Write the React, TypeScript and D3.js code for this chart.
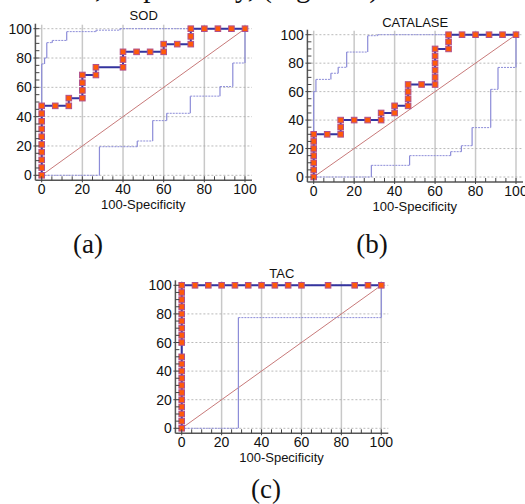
import React from "react";
import * as d3 from "d3";

// ---------- DATA ----------
const sodX = [0,0,0,0,0,0,0,0,0,0,6.67,13.33,13.33,20,20,20,20,26.67,26.67,40,40,40,46.67,53.33,60,60,66.67,73.33,73.33,73.33,80,86.67,93.33,100];
const sodY = [0,5.26,10.53,15.79,21.05,26.32,31.58,36.84,42.11,47.37,47.37,47.37,52.63,52.63,57.89,63.16,68.42,68.42,73.68,73.68,78.95,84.21,84.21,84.21,84.21,89.47,89.47,89.47,94.74,100,100,100,100,100];
const sodUpX = [0,0,1.4,2.5,5.2,12.3,26.7,38.5,100];
const sodUpY = [0,76,80,90.5,92,98,99,100,100];
const sodLoX = [0,28.4,47,54.6,61.5,73.1,87.7,94,100];
const sodLoY = [0,19.5,23.4,37.3,42.3,54,60.5,76.6,100];

const catX = [0,0,0,0,0,0,0,6.67,13.33,13.33,13.33,20,26.67,33.33,33.33,40,40,46.67,46.67,46.67,46.67,53.33,60,60,60,60,60,60,66.67,66.67,66.67,73.33,80,86.67,93.33,100];
const catY = [0,5,10,15,20,25,30,30,30,35,40,40,40,40,45,45,50,50,55,60,65,65,65,70,75,80,85,90,90,95,100,100,100,100,100,100];
const catUpX = [0,0,1.1,8.5,12.1,16.3,26.7,31.6,100];
const catUpY = [0,60,68.6,72.9,77.1,87.8,99.3,100,100];
const catLoX = [0,28.5,47.4,67.7,73,78.3,87.5,91.1,100];
const catLoY = [0,8.2,15,17.8,22,34.7,61.6,77,100];

const tacX = [0,0,0,0,0,0,0,0,0,0,0,0,0,0,0,0,0,0,0,0,6.67,13.33,20,26.67,33.33,40,46.67,53.33,60,73.33,86.67,93.33,100];
const tacY = [0,5,10,15,20,25,30,35,40,45,50,60,65,70,75,80,85,90,95,100,100,100,100,100,100,100,100,100,100,100,100,100,100];
const tacUpX = [0,0,100];
const tacUpY = [0,100,100];
const tacLoX = [0,28.4,100];
const tacLoY = [0,77.4,100];

const majorTicks = [0, 20, 40, 60, 80, 100];
const minorTicks = d3.range(0, 101, 5);
const xTitle = "100-Specificity";

// ---------- PANEL ----------
type PanelProps = {
  title: string;
  x0: number; x100: number; y0: number; y100: number;
  xs: number[]; ys: number[];
  upX: number[]; upY: number[];
  loX: number[]; loY: number[];
  titleY: number;
};

function stepSegments(xv: number[], yv: number[], sx: any, sy: any) {
  const h: string[] = [];
  const v: string[] = [];
  for (let i = 1; i < xv.length; i++) {
    const xa = sx(xv[i - 1]), ya = sy(yv[i - 1]);
    const xb = sx(xv[i]), yb = sy(yv[i]);
    if (xb !== xa) h.push(`M${xa},${ya}H${xb}`);
    if (yb !== ya) v.push(`M${xb},${ya}V${yb}`);
  }
  return { h: h.join(""), v: v.join("") };
}

function Panel(p: PanelProps) {
  const sx = d3.scaleLinear().domain([0, 100]).range([p.x0, p.x100]);
  const sy = d3.scaleLinear().domain([0, 100]).range([p.y0, p.y100]);
  const left = p.x0 - 6.3;
  const right = p.x100 + 7;
  const bottom = p.y0 + 5;
  const top = p.y100 - 4;
  const line = d3.line<number>().x((_, i) => sx(p.xs[i])).y((d) => sy(d));
  const up = stepSegments(p.upX, p.upY, sx, sy);
  const lo = stepSegments(p.loX, p.loY, sx, sy);
  const ciColor = "#8c8cd8";
  return (
    <g fontFamily="'Liberation Sans', Arial, sans-serif">
      <text x={(left + right) / 2} y={p.titleY} textAnchor="middle" fontSize={13} fill="#111">{p.title}</text>
      {majorTicks.map((t) => (
        <line key={"vg" + t} x1={sx(t)} x2={sx(t)} y1={top} y2={bottom} stroke="#c8c8c8" strokeWidth={1.5} />
      ))}
      {majorTicks.map((t) => (
        <line key={"hg" + t} x1={left} x2={right} y1={sy(t)} y2={sy(t)} stroke="#a8a8a8" strokeWidth={0.8} strokeDasharray="2,2" />
      ))}
      <line x1={sx(0)} y1={sy(0)} x2={sx(100)} y2={sy(100)} stroke="#c87a7a" strokeWidth={1} />
      <path d={up.h} stroke={ciColor} strokeWidth={1} strokeDasharray="2,1" fill="none" />
      <path d={up.v} stroke={ciColor} strokeWidth={1.2} fill="none" />
      <path d={lo.h} stroke={ciColor} strokeWidth={1} strokeDasharray="2,1" fill="none" />
      <path d={lo.v} stroke={ciColor} strokeWidth={1.2} fill="none" />
      <path d={line(p.ys) || ""} stroke="#34349e" strokeWidth={2} fill="none" />
      {p.ys.map((yv, i) => (
        <rect key={"m" + i} x={sx(p.xs[i]) - 2.8} y={sy(yv) - 2.8} width={5.6} height={5.6} fill="#ff5a0a" stroke="#b0508c" strokeWidth={1} />
      ))}
      <line x1={left} x2={left} y1={top - 1} y2={bottom} stroke="#555" strokeWidth={1.5} />
      <line x1={left} x2={right} y1={bottom} y2={bottom} stroke="#555" strokeWidth={1.5} />
      {minorTicks.map((t) => {
        const major = t % 20 === 0;
        return (
          <g key={"t" + t}>
            <line x1={major ? left - 2 : left} x2={left + 4} y1={sy(t)} y2={sy(t)} stroke="#444" strokeWidth={1} />
            <line x1={sx(t)} x2={sx(t)} y1={bottom - 4} y2={major ? bottom + 2 : bottom} stroke="#444" strokeWidth={1} />
          </g>
        );
      })}
      {majorTicks.map((t) => (
        <text key={"yl" + t} x={left - 3.5} y={sy(t) + 5} textAnchor="end" fontSize={14} fill="#111">{t}</text>
      ))}
      {majorTicks.map((t) => (
        <text key={"xl" + t} x={sx(t)} y={bottom + 14} textAnchor="middle" fontSize={14} fill="#111">{t}</text>
      ))}
      <text x={(sx(0) + sx(100)) / 2} y={bottom + 29} textAnchor="middle" fontSize={13} fill="#111">{xTitle}</text>
    </g>
  );
}

export default function App() {
  return (
    <svg width={525} height={504} style={{ position: "absolute", left: 0, top: 0, background: "#fff" }}>
      <rect width={525} height={504} fill="#fff" />
      <text x={95} y={-3.5} fontFamily="'Liberation Serif', 'Times New Roman', serif" fontSize={29} fill="#111">, respectively, (Figure 1)</text>
      <Panel title="SOD" x0={41.7} x100={245} y0={175.3} y100={28.7} titleY={20}
        xs={sodX} ys={sodY} upX={sodUpX} upY={sodUpY} loX={sodLoX} loY={sodLoY} />
      <Panel title="CATALASE" x0={313.7} x100={516} y0={177} y100={34.7} titleY={26.5}
        xs={catX} ys={catY} upX={catUpX} upY={catUpY} loX={catLoX} loY={catLoY} />
      <Panel title="TAC" x0={181.7} x100={381.3} y0={428.3} y100={285.3} titleY={278}
        xs={tacX} ys={tacY} upX={tacUpX} upY={tacUpY} loX={tacLoX} loY={tacLoY} />
      <g fontFamily="'Liberation Serif', 'Times New Roman', serif" fontSize={27} fill="#111" textAnchor="middle">
        <text x={88} y={253}>(a)</text>
        <text x={372} y={253}>(b)</text>
        <text x={266} y={498}>(c)</text>
      </g>
    </svg>
  );
}
